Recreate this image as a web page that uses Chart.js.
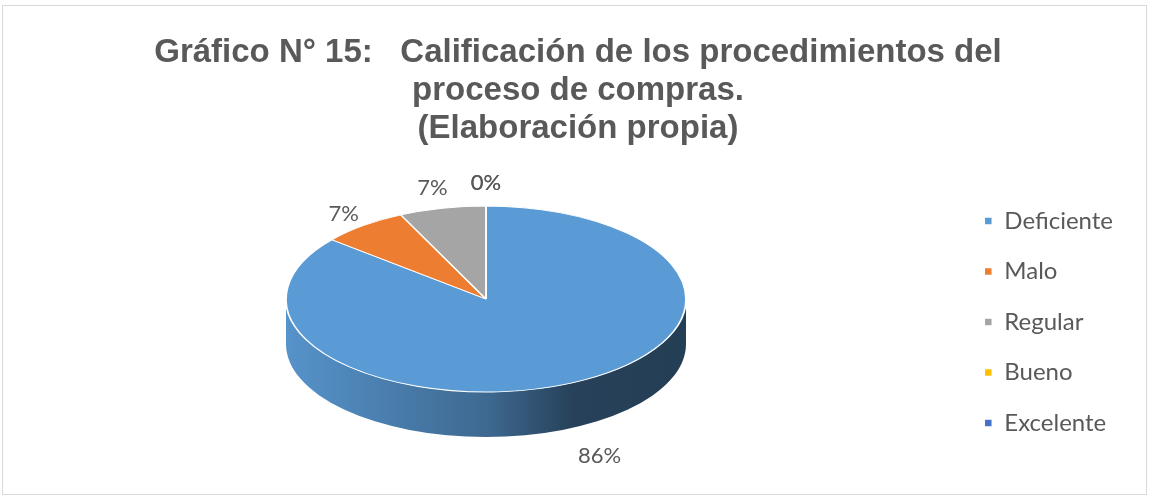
<!DOCTYPE html>
<html>
<head>
<meta charset="utf-8">
<script src="https://cdn.jsdelivr.net/npm/chart.js@4.4.0/dist/chart.umd.min.js"></script>
<style>
  html, body { margin: 0; padding: 0; background: #fff; }
  #wrap { width: 1156px; height: 498px; }
</style>
</head>
<body>
<div id="wrap"><canvas id="chartCalificacion" width="1156" height="498"></canvas></div>
<script>
const categorias = ["Deficiente", "Malo", "Regular", "Bueno", "Excelente"];
const porcentajes = [86, 7, 7, 0, 0];
const colores = ["#5B9BD5", "#ED7D31", "#A5A5A5", "#FFC000", "#4472C4"];
const titulo = [
    "Gráfico N° 15:   Calificación de los procedimientos del",
    "proceso de compras.",
    "(Elaboración propia)"
];

// donde va la elipse del pastel "3D"
const pie3d = { cx: 486, cy: 299, rx: 200, ry: 93, depth: 45, labelOffset: 23, labelOffsetBelow: 40 };

// oscurecer un color hex
const shade = (hex, f) => {
    const n = parseInt(hex.slice(1), 16);
    const r = Math.round(((n >> 16) & 255) * f);
    const g = Math.round(((n >> 8) & 255) * f);
    const b = Math.round((n & 255) * f);
    return `rgb(${r},${g},${b})`;
};

const pie3dPlugin = {
    id: "pie3d",
    beforeDraw(chart) {
        const ctx = chart.ctx;
        ctx.save();
        ctx.strokeStyle = "#d9d9d9";
        ctx.lineWidth = 1;
        ctx.strokeRect(2.5, 5.5, 1144, 489);
        ctx.restore();
    },
    beforeDatasetsDraw(chart) {
        const ctx = chart.ctx;
        const meta = chart.getDatasetMeta(0);
        const { cx, cy, rx, ry, depth } = pie3d;

        // lado del cilindro (solo la mitad de abajo se ve)
        meta.data.forEach((arc, i) => {
            for (let k = -1; k <= 1; k++) {
                const a = Math.max(arc.startAngle, 2 * Math.PI * k);
                const b = Math.min(arc.endAngle, 2 * Math.PI * k + Math.PI);
                if (b - a <= 0.0001) continue;
                const grad = ctx.createLinearGradient(cx - rx, 0, cx + rx, 0);
                grad.addColorStop(0, shade(colores[i], 0.95));
                grad.addColorStop(0.5, shade(colores[i], 0.68));
                grad.addColorStop(0.72, shade(colores[i], 0.42));
                grad.addColorStop(1, shade(colores[i], 0.4));
                ctx.beginPath();
                ctx.ellipse(cx, cy, rx, ry, 0, a, b);
                ctx.ellipse(cx, cy + depth, rx, ry, 0, b, a, true);
                ctx.closePath();
                ctx.fillStyle = grad;
                ctx.fill();
            }
        });

        // la cara de arriba: el pastel normal aplastado en la elipse
        const first = meta.data[0];
        const R = first.outerRadius;
        ctx.save();
        ctx.translate(cx, cy);
        ctx.scale(rx / R, ry / R);
        ctx.translate(-first.x, -first.y);
    },
    afterDatasetsDraw(chart) {
        const ctx = chart.ctx;
        ctx.restore();

        const meta = chart.getDatasetMeta(0);
        const { cx, cy, rx, ry, depth, labelOffset, labelOffsetBelow } = pie3d;
        ctx.save();
        ctx.font = '22px "Lato"';
        ctx.fillStyle = "#595959";
        ctx.textAlign = "center";
        ctx.textBaseline = "middle";
        meta.data.forEach((arc, i) => {
            const mid = (arc.startAngle + arc.endAngle) / 2;
            const c = Math.cos(mid), s = Math.sin(mid);
            const len = Math.hypot(c * rx, s * ry);
            const off = s > 0 ? labelOffsetBelow : labelOffset;
            const x = cx + c * rx + (c * rx / len) * off;
            const y = cy + s * ry + (s * ry / len) * off + (s > 0 ? depth : 0);
            ctx.fillText(porcentajes[i] + "%", x, y);
        });
        ctx.restore();
    }
};

new Chart(document.getElementById("chartCalificacion"), {
    type: "pie",
    data: {
        labels: categorias,
        datasets: [
            {
                data: porcentajes,
                backgroundColor: colores,
                borderColor: "#ffffff",
                borderWidth: 1.5
            }
        ]
    },
    options: {
        responsive: false,
        animation: false,
        events: [],
        layout: { padding: { top: 0, right: 33, bottom: 12, left: 33 } },
        plugins: {
            title: {
                display: true,
                text: titulo,
                color: "#595959",
                font: { family: '"Liberation Sans Narrow", "Liberation Sans"', size: 33, weight: "bold", lineHeight: 1.15 },
                padding: { top: 34, bottom: 10 }
            },
            legend: {
                position: "right",
                fullSize: false,
                labels: {
                    color: "#595959",
                    font: { family: "Lato", size: 24 },
                    boxWidth: 8,
                    boxHeight: 8,
                    padding: 26.5
                }
            },
            tooltip: { enabled: false }
        }
    },
    plugins: [pie3dPlugin]
});
</script>
</body>
</html>
